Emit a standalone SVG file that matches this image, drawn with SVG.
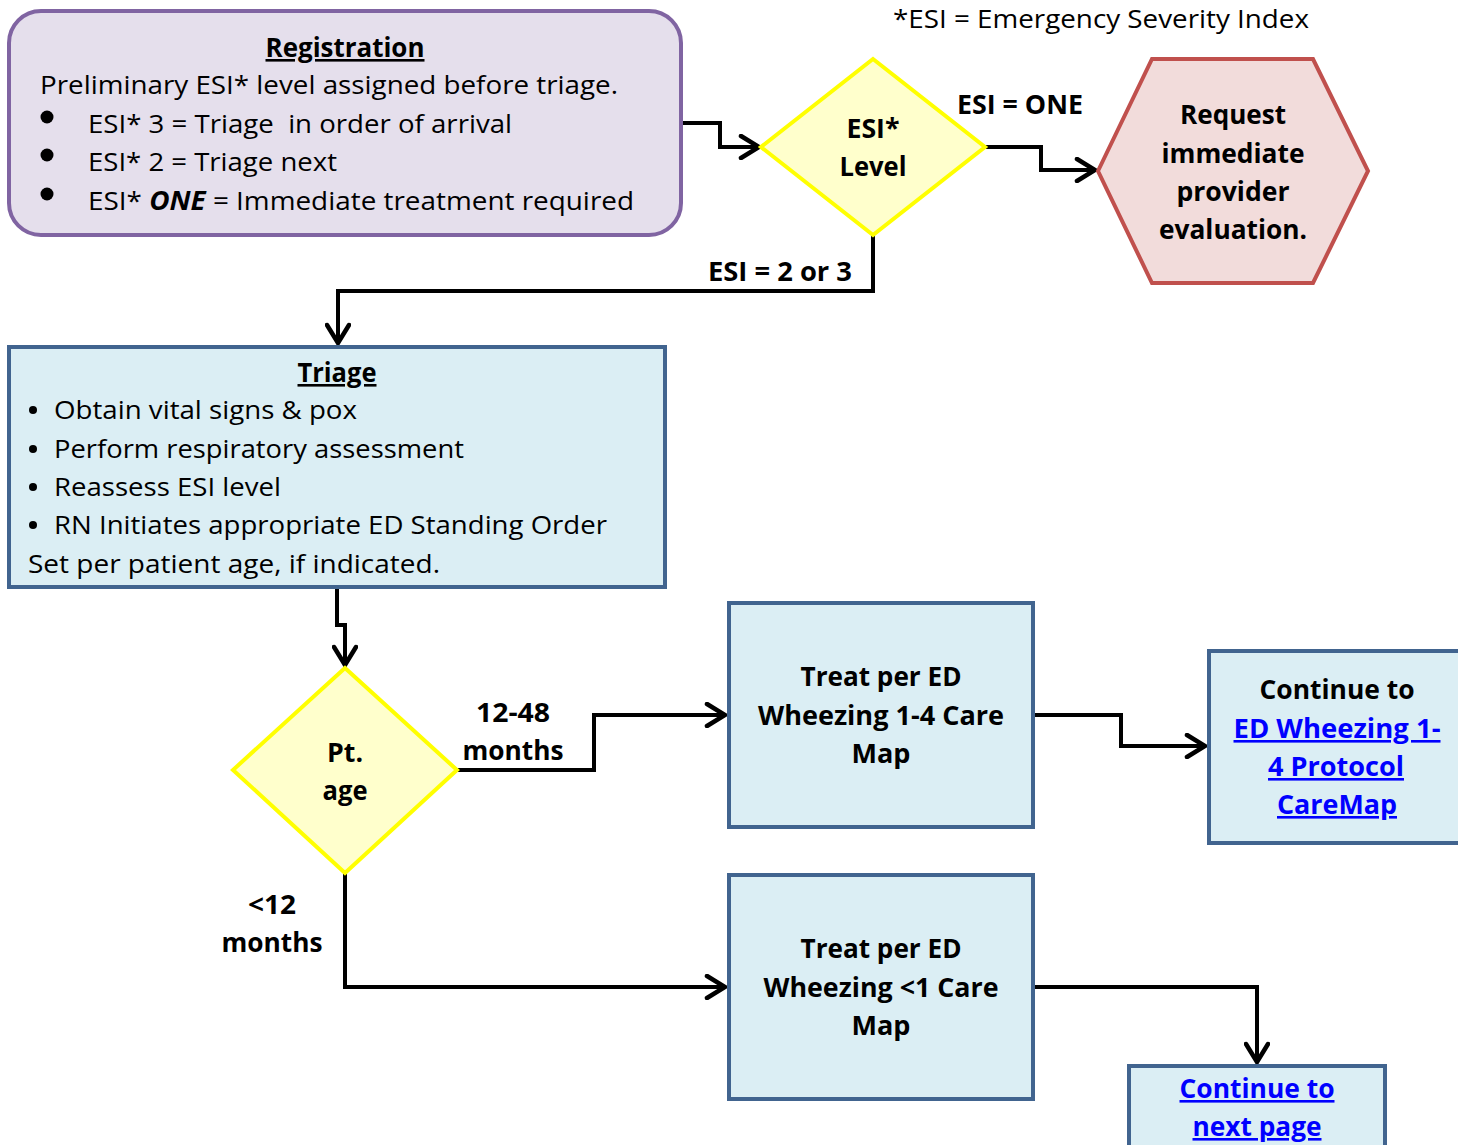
<svg xmlns="http://www.w3.org/2000/svg" width="1458" height="1145" viewBox="0 0 1458 1145">
<style>
text{font-family:"Open Sans","Liberation Sans",sans-serif;font-size:26px;fill:#000}
.b{font-weight:700}
.c{text-anchor:middle}
.u{text-decoration:underline}
.lnk{fill:#0000FF;font-weight:700;text-decoration:underline;text-anchor:middle}
.box{fill:#DBEEF4;stroke:#41648F;stroke-width:4}
.dia{fill:#FFFFCC;stroke:#FFFF00;stroke-width:4}
.con{fill:none;stroke:#000;stroke-width:4;stroke-linejoin:miter}
</style>
<defs>
<marker id="arr" viewBox="0 0 24 26" markerWidth="24" markerHeight="26" refX="21" refY="13" orient="auto" markerUnits="userSpaceOnUse">
<path d="M3,2 L21,13 L3,24" fill="none" stroke="#000" stroke-width="4.5" stroke-linecap="round" stroke-linejoin="miter"/>
</marker>
</defs>
<rect width="1458" height="1145" fill="#fff"/>

<text id="legend" x="893" y="28" textLength="416" lengthAdjust="spacingAndGlyphs">*ESI = Emergency Severity Index</text>

<g id="connectors">
<polyline class="con" points="682,123 720,123 720,147 759,147" marker-end="url(#arr)"/>
<polyline class="con" points="985,147 1041,147 1041,170 1095,170" marker-end="url(#arr)"/>
<polyline class="con" points="873,235 873,291 338,291 338,343" marker-end="url(#arr)"/>
<polyline class="con" points="337,587 337,625 345,625 345,665" marker-end="url(#arr)"/>
<polyline class="con" points="457,770 594,770 594,715 725,715" marker-end="url(#arr)"/>
<polyline class="con" points="345,873 345,987 725,987" marker-end="url(#arr)"/>
<polyline class="con" points="1033,715 1121,715 1121,746 1205,746" marker-end="url(#arr)"/>
<polyline class="con" points="1033,987 1257,987 1257,1062" marker-end="url(#arr)"/>
<text class="b" x="957" y="114" textLength="126" lengthAdjust="spacingAndGlyphs">ESI = ONE</text>
<text class="b" x="708" y="281" textLength="144" lengthAdjust="spacingAndGlyphs">ESI = 2 or 3</text>
<text class="b c" x="513" y="722" textLength="74" lengthAdjust="spacingAndGlyphs">12-48</text>
<text class="b c" x="513" y="760" textLength="101" lengthAdjust="spacingAndGlyphs">months</text>
<text class="b c" x="272" y="914" textLength="48" lengthAdjust="spacingAndGlyphs">&lt;12</text>
<text class="b c" x="272" y="952" textLength="101" lengthAdjust="spacingAndGlyphs">months</text>
</g>

<g id="registration">
<rect x="9" y="11" width="672" height="224" rx="32" ry="32" fill="#E5DFEC" stroke="#8064A2" stroke-width="4"/>
<text class="b c u" x="345" y="57" textLength="159" lengthAdjust="spacingAndGlyphs">Registration</text>
<text x="40" y="94" textLength="578" lengthAdjust="spacingAndGlyphs">Preliminary ESI* level assigned before triage.</text>
<circle cx="47" cy="117" r="6.5"/>
<circle cx="47" cy="155" r="6.5"/>
<circle cx="47" cy="194" r="6.5"/>
<text x="88" y="133" textLength="424" lengthAdjust="spacingAndGlyphs" xml:space="preserve">ESI* 3 = Triage  in order of arrival</text>
<text x="88" y="171" textLength="249" lengthAdjust="spacingAndGlyphs">ESI* 2 = Triage next</text>
<text x="88" y="210" textLength="546" lengthAdjust="spacingAndGlyphs">ESI* <tspan font-weight="700" font-style="italic">ONE</tspan> = Immediate treatment required</text>
</g>

<g id="esi-level">
<polygon class="dia" points="873,59 985,147 873,235 761,147"/>
<text class="b c" x="873" y="138" textLength="53" lengthAdjust="spacingAndGlyphs">ESI*</text>
<text class="b c" x="873" y="176" textLength="67" lengthAdjust="spacingAndGlyphs">Level</text>
</g>

<g id="request">
<polygon points="1098,171 1152,59 1313,59 1368,171 1313,283 1152,283" fill="#F2DCDB" stroke="#C0504D" stroke-width="4"/>
<text class="b c" x="1233" y="124" textLength="106" lengthAdjust="spacingAndGlyphs">Request</text>
<text class="b c" x="1233" y="163" textLength="143" lengthAdjust="spacingAndGlyphs">immediate</text>
<text class="b c" x="1233" y="201" textLength="113" lengthAdjust="spacingAndGlyphs">provider</text>
<text class="b c" x="1233" y="239" textLength="148" lengthAdjust="spacingAndGlyphs">evaluation.</text>
</g>

<g id="triage">
<rect class="box" x="9" y="347" width="656" height="240"/>
<text class="b c u" x="337" y="382" textLength="79" lengthAdjust="spacingAndGlyphs">Triage</text>
<circle cx="33" cy="410" r="4"/>
<circle cx="33" cy="449" r="4"/>
<circle cx="33" cy="487" r="4"/>
<circle cx="33" cy="525" r="4"/>
<text x="54" y="419" textLength="303" lengthAdjust="spacingAndGlyphs">Obtain vital signs &amp; pox</text>
<text x="54" y="458" textLength="410" lengthAdjust="spacingAndGlyphs">Perform respiratory assessment</text>
<text x="54" y="496" textLength="227" lengthAdjust="spacingAndGlyphs">Reassess ESI level</text>
<text x="54" y="534" textLength="553" lengthAdjust="spacingAndGlyphs">RN Initiates appropriate ED Standing Order</text>
<text x="28" y="573" textLength="412" lengthAdjust="spacingAndGlyphs">Set per patient age, if indicated.</text>
</g>

<g id="pt-age">
<polygon class="dia" points="345,668 457,770 345,873 233,770"/>
<text class="b c" x="345" y="762" textLength="36" lengthAdjust="spacingAndGlyphs">Pt.</text>
<text class="b c" x="345" y="800" textLength="45" lengthAdjust="spacingAndGlyphs">age</text>
</g>

<g id="treat-1-4">
<rect class="box" x="729" y="603" width="304" height="224"/>
<text class="b c" x="881" y="686" textLength="161" lengthAdjust="spacingAndGlyphs">Treat per ED</text>
<text class="b c" x="881" y="725" textLength="246" lengthAdjust="spacingAndGlyphs">Wheezing 1-4 Care</text>
<text class="b c" x="881" y="763" textLength="59" lengthAdjust="spacingAndGlyphs">Map</text>
</g>

<g id="continue-1-4">
<rect class="box" x="1209" y="651" width="260" height="192"/>
<text class="b c" x="1337" y="699" textLength="155" lengthAdjust="spacingAndGlyphs">Continue to</text>
<text class="lnk" x="1337" y="738" textLength="207" lengthAdjust="spacingAndGlyphs">ED Wheezing 1-</text>
<text class="lnk" x="1336" y="776" textLength="136" lengthAdjust="spacingAndGlyphs">4 Protocol</text>
<text class="lnk" x="1337" y="814" textLength="120" lengthAdjust="spacingAndGlyphs">CareMap</text>
</g>

<g id="treat-lt1">
<rect class="box" x="729" y="875" width="304" height="224"/>
<text class="b c" x="881" y="958" textLength="161" lengthAdjust="spacingAndGlyphs">Treat per ED</text>
<text class="b c" x="881" y="997" textLength="235" lengthAdjust="spacingAndGlyphs">Wheezing &lt;1 Care</text>
<text class="b c" x="881" y="1035" textLength="59" lengthAdjust="spacingAndGlyphs">Map</text>
</g>

<g id="continue-next">
<rect class="box" x="1129" y="1066" width="256" height="100"/>
<text class="lnk" x="1257" y="1098" textLength="155" lengthAdjust="spacingAndGlyphs">Continue to</text>
<text class="lnk" x="1257" y="1136" textLength="129" lengthAdjust="spacingAndGlyphs">next page</text>
</g>
</svg>
